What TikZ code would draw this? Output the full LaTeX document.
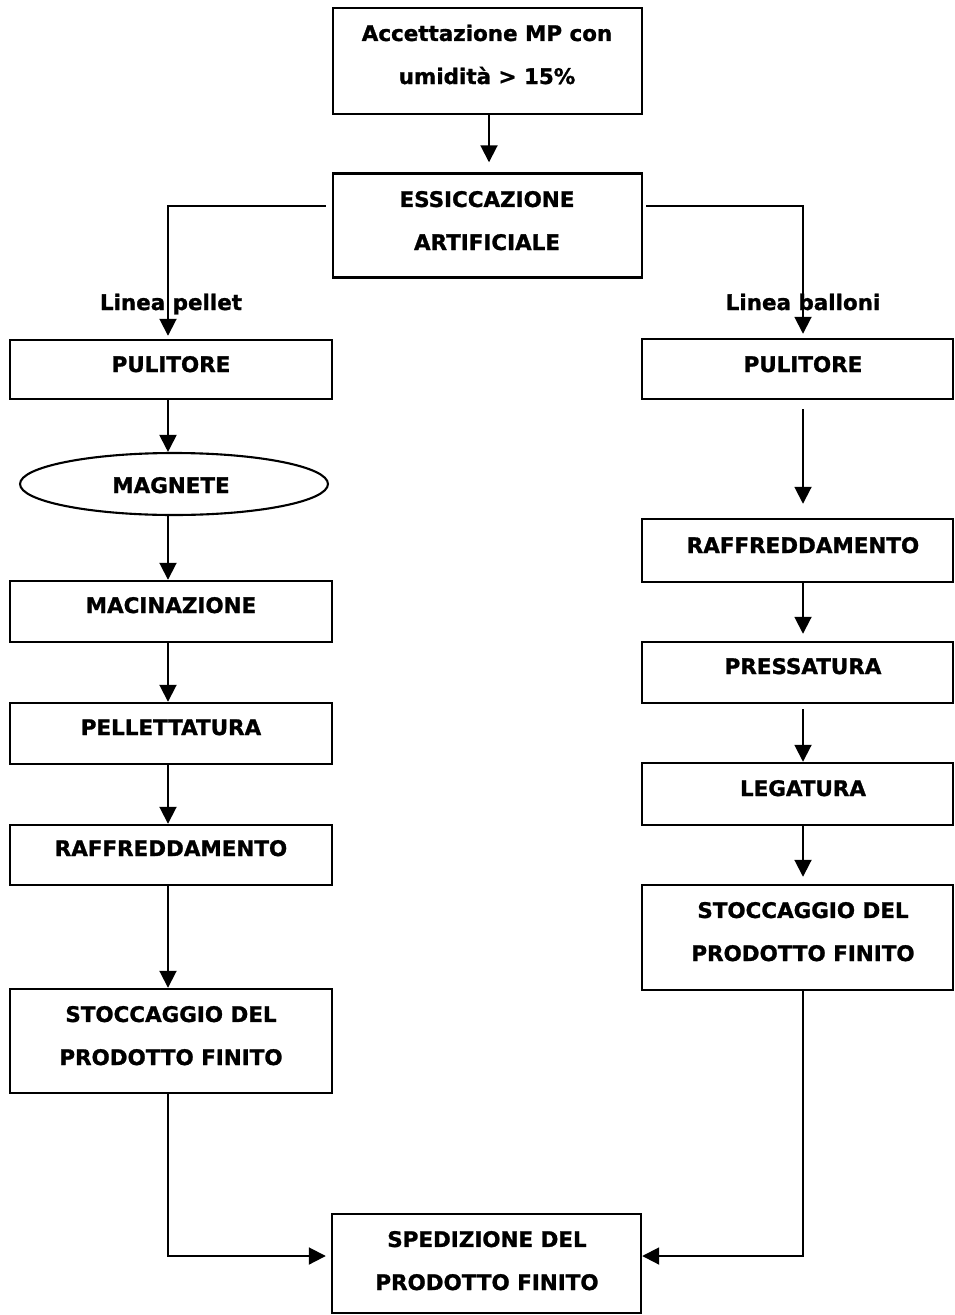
\documentclass[tikz,border=0pt]{standalone}
\usepackage{fontspec}
\setmainfont{DejaVu Sans}[BoldFeatures={FakeBold=1.2}]
\usetikzlibrary{arrows.meta,shapes.geometric,calc}
\begin{document}
\begin{tikzpicture}[x=0.02cm,y=-0.02cm,
  box/.style={draw, line width=1.4pt, rectangle, inner sep=0pt},
  oval/.style={draw, line width=1.2pt, ellipse, inner sep=0pt},
  lbl/.style={font=\bfseries\fontsize{12.2}{24.5}\selectfont, align=center, anchor=base, inner sep=0pt},
  arr/.style={line width=1.1pt, -{Triangle[width=0.34cm,length=0.34cm]}},
  ln/.style={line width=1.1pt}]
\useasboundingbox (0,0) rectangle (955,1315);
% boxes
\node[box, minimum width=6.18cm, minimum height=2.12cm] (top) at (487.5,61) {};
\node[box, minimum width=6.18cm, minimum height=2.08cm] (ess) at (487.5,225.5) {};
\node[box, minimum width=6.44cm, minimum height=1.18cm] (lpul) at (171,369.5) {};
\node[oval, minimum width=6.16cm, minimum height=1.24cm] (mag) at (174,484) {};
\node[box, minimum width=6.44cm, minimum height=1.22cm] (mac) at (171,611.5) {};
\node[box, minimum width=6.44cm, minimum height=1.22cm] (pel) at (171,733.5) {};
\node[box, minimum width=6.44cm, minimum height=1.2cm] (lraf) at (171,855) {};
\node[box, minimum width=6.44cm, minimum height=2.08cm] (lsto) at (171,1041) {};
\node[box, minimum width=6.22cm, minimum height=1.2cm] (rpul) at (797.5,369) {};
\node[box, minimum width=6.22cm, minimum height=1.26cm] (rraf) at (797.5,550.5) {};
\node[box, minimum width=6.22cm, minimum height=1.22cm] (pre) at (797.5,672.5) {};
\node[box, minimum width=6.22cm, minimum height=1.24cm] (leg) at (797.5,794) {};
\node[box, minimum width=6.22cm, minimum height=2.1cm] (rsto) at (797.5,937.5) {};
\node[box, minimum width=6.18cm, minimum height=1.98cm] (sped) at (486.5,1263.5) {};
% texts (anchor base = baseline of last line)
\node[lbl] (t-top) at (487,84) {Accettazione MP con\\umidità > 15\%};
\node[lbl] (t-ess) at (487,250) {ESSICCAZIONE\\ARTIFICIALE};
\node[lbl] (t-lp) at (171,310) {Linea pellet};
\node[lbl] (t-lb) at (803,310) {Linea balloni};
\node[lbl] (t-lpul) at (171,372) {PULITORE};
\node[lbl] (t-mag) at (171,493) {MAGNETE};
\node[lbl] (t-mac) at (171,613) {MACINAZIONE};
\node[lbl] (t-pel) at (171,735) {PELLETTATURA};
\node[lbl] (t-lraf) at (171,856) {RAFFREDDAMENTO};
\node[lbl] (t-lsto) at (171,1065) {STOCCAGGIO DEL\\PRODOTTO FINITO};
\node[lbl] (t-rpul) at (803,372) {PULITORE};
\node[lbl] (t-rraf) at (803,553) {RAFFREDDAMENTO};
\node[lbl] (t-pre) at (803,674) {PRESSATURA};
\node[lbl] (t-leg) at (803,796) {LEGATURA};
\node[lbl] (t-rsto) at (803,961) {STOCCAGGIO DEL\\PRODOTTO FINITO};
\node[lbl] (t-sped) at (487,1290) {SPEDIZIONE DEL\\PRODOTTO FINITO};
% connectors
\coordinate (cm) at (489,0);
\coordinate (cl) at (168,206);
\coordinate (cr) at (803,206);
\coordinate (bl) at (168,1256);
\coordinate (br) at (803,1256);
\draw[arr, shorten >=0.2cm] (cm |- top.south) -- (cm |- ess.north);
\draw[arr, shorten >=0.06cm] ($(ess.west |- cl)+(-6,0)$) -- (cl) -- (cl |- lpul.north);
\draw[arr, shorten >=0.08cm] ($(ess.east |- cr)+(3,0)$) -- (cr) -- (cr |- rpul.north);
\draw[arr] (cl |- lpul.south) -- (cl |- mag.north);
\draw[arr] (cl |- mag.south) -- (cl |- mac.north);
\draw[arr] (cl |- mac.south) -- (cl |- pel.north);
\draw[arr] (cl |- pel.south) -- (cl |- lraf.north);
\draw[arr] (cl |- lraf.south) -- (cl |- lsto.north);
\draw[arr, shorten >=0.1cm] (cl |- lsto.south) -- (bl) -- (sped.west |- bl);
\draw[arr, shorten <=0.18cm, shorten >=0.28cm] (cr |- rpul.south) -- (cr |- rraf.north);
\draw[arr, shorten >=0.14cm] (cr |- rraf.south) -- (cr |- pre.north);
\draw[arr, shorten <=0.1cm] (cr |- pre.south) -- (cr |- leg.north);
\draw[arr, shorten >=0.14cm] (cr |- leg.south) -- (cr |- rsto.north);
\draw[arr] (cr |- rsto.south) -- (br) -- (sped.east |- br);
\end{tikzpicture}
\end{document}
